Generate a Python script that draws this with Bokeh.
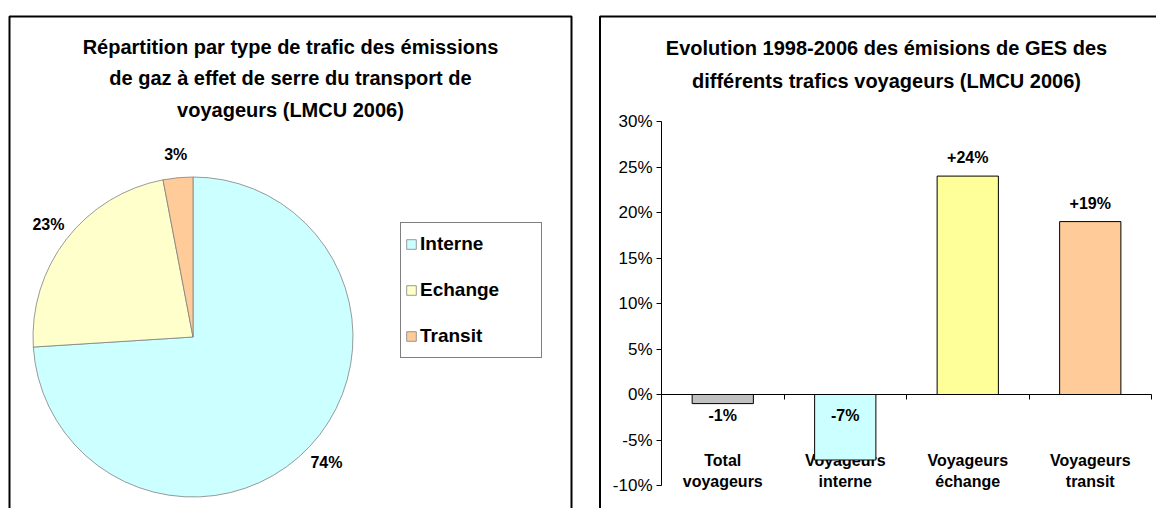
import numpy as np
from bokeh.plotting import figure
from bokeh.layouts import row
from bokeh.models import (ColumnDataSource, Range1d, LinearAxis, FixedTicker,
                          PrintfTickFormatter, BoxAnnotation, Legend, LegendItem)
from bokeh.core.properties import value
from bokeh.embed import file_html
from bokeh.resources import INLINE

# ---------------- data ----------------
pie_title = ("Répartition par type de trafic des émissions\n"
             "de gaz à effet de serre du transport de\n"
             "voyageurs (LMCU 2006)")
pie_labels = ["Interne", "Echange", "Transit"]
pie_values = [74, 23, 3]
pie_colors = ["#CCFFFF", "#FFFFCC", "#FFCC99"]

bar_title = ("Evolution 1998-2006 des émisions de GES des\n"
             "différents trafics voyageurs (LMCU 2006)")
bar_categories = ["Total\nvoyageurs", "Voyageurs\ninterne",
                  "Voyageurs\néchange", "Voyageurs\ntransit"]
bar_values = [-1, -7.2, 24, 19]
bar_colors = ["#C0C0C0", "#CCFFFF", "#FFFF99", "#FFCC99"]
y_ticks = [-10, -5, 0, 5, 10, 15, 20, 25, 30]

FONT = "Liberation Sans"
PAGE_H = 508

# ---------------- left panel: pie ----------------
W1, H1 = 598, PAGE_H


def px1(page_x):
    return page_x


def py1(page_y):
    return H1 - page_y


p1 = figure(width=W1, height=H1, x_range=Range1d(0, W1), y_range=Range1d(0, H1),
            output_backend="svg", toolbar_location=None,
            x_axis_type=None, y_axis_type=None, min_border=0,
            outline_line_color=None, background_fill_color="white",
            border_fill_color="white")

frac = np.array(pie_values, dtype=float) / sum(pie_values)
cum = np.concatenate([[0.0], np.cumsum(frac)])
start = np.pi / 2 - 2 * np.pi * cum[:-1]
end = np.pi / 2 - 2 * np.pi * cum[1:]
mid = (start + end) / 2
cx, cy, R, RL = px1(192.5), py1(336.5), 160, 183

pie_src = ColumnDataSource(dict(
    label=pie_labels, val=pie_values, color=pie_colors,
    start=start, end=end,
    tx=cx + RL * np.cos(mid), ty=cy + RL * np.sin(mid),
    txt=[f"{v}%" for v in pie_values]))

wedges = p1.wedge(x=cx, y=cy, radius=R, start_angle="start", end_angle="end",
                  direction="clock", fill_color="color", line_color="#808080",
                  line_width=0.8, source=pie_src)

p1.text(x="tx", y="ty", text="txt", text_align="center", text_baseline="middle",
        text_font=value(FONT), text_font_style="bold", text_font_size="16px",
        text_color="black", source=pie_src)

p1.text(x=[px1(290)], y=[py1(78)], text=[pie_title], text_align="center",
        text_baseline="middle", text_font=value(FONT), text_font_style="bold",
        text_font_size="20px", text_line_height=1.41, text_color="black")

legend = Legend(items=[LegendItem(label=lab, renderers=[wedges], index=i)
                       for i, lab in enumerate(pie_labels)],
                location=(px1(400), py1(358)),
                border_line_color="black", border_line_width=1.5,
                background_fill_color="white", background_fill_alpha=1.0,
                label_text_font=FONT, label_text_font_style="bold",
                label_text_font_size="19px", label_text_color="black",
                glyph_width=12, glyph_height=12,
                label_standoff=3, padding=4, spacing=12, label_height=34,
                label_width=117, margin=0)
p1.add_layout(legend)

p1.add_layout(BoxAnnotation(left=px1(9), right=px1(571), top=py1(16), bottom=-200,
                            fill_alpha=0, line_color="black", line_alpha=1.0,
                            line_width=2))

# ---------------- right panel: bars ----------------
W2, H2 = 558, PAGE_H
X0PX, XSCALE = 661, 122.5
Y0PX, YSCALE = 394, 9.1


def px2(page_x):
    return (page_x - X0PX) / XSCALE


def py2(page_y):
    return (Y0PX - page_y) / YSCALE


p2 = figure(width=W2, height=H2, x_range=Range1d(px2(598), px2(598 + W2)),
            y_range=Range1d(py2(H2), py2(0)),
            output_backend="svg", toolbar_location=None,
            x_axis_type=None, y_axis_type=None, min_border=0,
            outline_line_color=None, background_fill_color="white",
            border_fill_color="white")

n = len(bar_categories)
bar_src = ColumnDataSource(dict(
    x=[i + 0.5 for i in range(n)], top=bar_values, color=bar_colors,
    cat=bar_categories,
    ly=[v + 2.0 if v > 0 else -2.3 for v in bar_values],
    lt=[f"{v:+.0f}%" for v in bar_values]))

# category labels first (bars overlap them as in the original)
p2.text(x="x", y=-8.4, text="cat", text_align="center", text_baseline="middle",
        text_font=value(FONT), text_font_style="bold", text_font_size="16px",
        text_line_height=1.19, text_color="black", source=bar_src)

p2.vbar(x="x", top="top", bottom=0, width=0.5, fill_color="color",
        line_color="black", line_width=1, source=bar_src)

p2.text(x="x", y="ly", text="lt", text_align="center", text_baseline="middle",
        text_font=value(FONT), text_font_style="bold", text_font_size="16px",
        text_color="black", source=bar_src)

yax = LinearAxis(fixed_location=0, bounds=(-10, 30), ticker=FixedTicker(ticks=y_ticks),
                 formatter=PrintfTickFormatter(format="%d%%"),
                 major_tick_out=5, major_tick_in=0, minor_tick_line_color=None,
                 axis_line_color="black", major_tick_line_color="black",
                 major_label_text_font=FONT, major_label_text_font_size="17px",
                 major_label_text_color="black", major_label_standoff=4)
p2.add_layout(yax, "left")

bounds_ticks = list(range(n + 1))
xax = LinearAxis(fixed_location=0, bounds=(0, n), ticker=FixedTicker(ticks=bounds_ticks),
                 major_label_overrides={t: "" for t in bounds_ticks},
                 major_tick_out=5, major_tick_in=0, minor_tick_line_color=None,
                 axis_line_color="black", major_tick_line_color="black")
p2.add_layout(xax, "below")

p2.text(x=[px2(886)], y=[py2(64)], text=[bar_title], text_align="center",
        text_baseline="middle", text_font=value(FONT), text_font_style="bold",
        text_font_size="20px", text_line_height=1.5, text_color="black")

p2.add_layout(BoxAnnotation(left=px2(599.5), right=px2(1500), top=py2(16), bottom=-200,
                            fill_alpha=0, line_color="black", line_alpha=1.0,
                            line_width=2))

layout = row(p1, p2)
open("out.html", "w").write(file_html(layout, INLINE))
